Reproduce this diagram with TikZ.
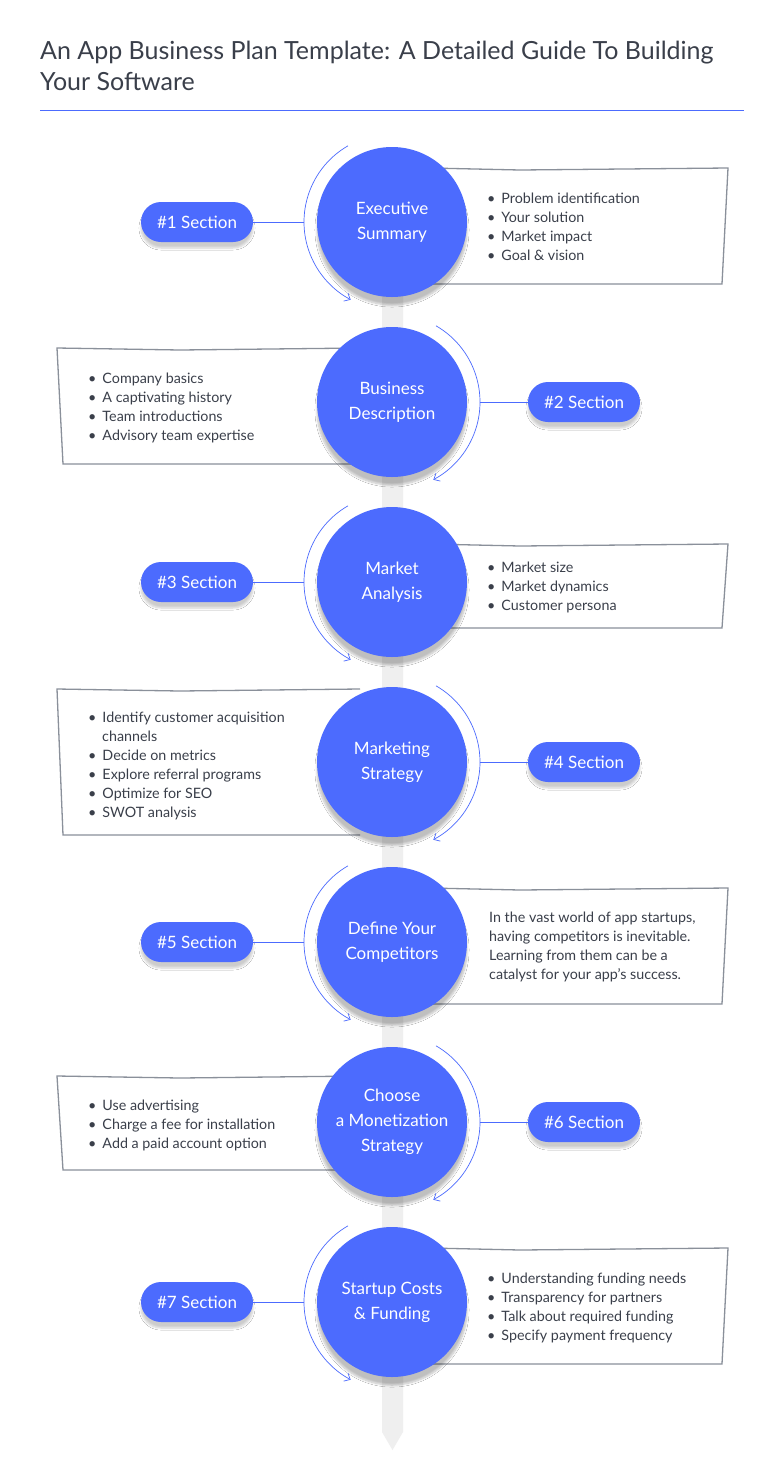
\documentclass[tikz,border=0pt]{standalone}
\usepackage{fontspec}
\setmainfont{Lato}
\usetikzlibrary{arrows.meta,shadows.blur,calc}
\definecolor{blu}{HTML}{4C6BFE}
\definecolor{txt}{HTML}{3A3F4A}
\definecolor{frm}{HTML}{8A909A}
\definecolor{spn}{HTML}{EFEFEF}
\begin{document}
\begin{tikzpicture}[x=1pt,y=-1pt,
  circ/.style={circle,fill=blu,minimum size=150pt,inner sep=0pt,text=white,align=center,font=\fontsize{17}{25}\selectfont,blur shadow={shadow blur steps=8,shadow xshift=0pt,shadow yshift=-8pt,shadow opacity=25}},
  pill/.style={rounded corners=20pt,fill=blu,minimum width=112pt,minimum height=40pt,text=white,font=\fontsize{17}{19}\selectfont,blur shadow={shadow blur steps=6,shadow xshift=0pt,shadow yshift=-6pt,shadow opacity=20}},
  frame/.style={draw=frm,line width=1.3pt},
  lst/.style={anchor=north west,text=txt,align=left,font=\fontsize{14.3}{19}\selectfont,inner sep=0pt},
  arc/.style={draw=blu,line width=0.7pt,-{Straight Barb[length=5pt,width=9pt]}},
  con/.style={draw=blu,line width=0.8pt}]
\useasboundingbox (0,0) rectangle (784,1484);
\fill[white] (0,0) rectangle (784,1484);
\node[anchor=north west,text=txt,align=left,font=\fontsize{25}{31}\selectfont,inner sep=0pt] (title) at (40,41) {An App Business Plan Template: A Detailed Guide To Building\\Your Software};
\draw[blu,line width=0.8pt] (40,110) -- (744,110);
% spine
\fill[spn] (382,160) -- (403,160) -- (403,1432) -- (392.5,1450) -- (382,1432) -- cycle;
% frames
\draw[frame] (430,168) -- (520,170) -- (728,168) -- (722,284) -- (430,284);
\draw[frame] (360,348) -- (180,350) -- (57,348) -- (63,464) -- (360,464);
\draw[frame] (430,544) -- (520,546) -- (728,544) -- (722,628) -- (430,628);
\draw[frame] (360,689) -- (180,691) -- (57,689) -- (63,835) -- (360,835);
\draw[frame] (430,888) -- (520,890) -- (728,888) -- (722,1004) -- (430,1004);
\draw[frame] (360,1076) -- (180,1078) -- (57,1076) -- (63,1170) -- (360,1170);
\draw[frame] (430,1248) -- (520,1250) -- (728,1248) -- (722,1364) -- (430,1364);
% circles
\node[circ] (c1) at (392,222) {Executive\\Summary};
\node[circ] (c2) at (392,402) {Business\\Description};
\node[circ] (c3) at (392,582) {Market\\Analysis};
\node[circ] (c4) at (392,762) {Marketing\\Strategy};
\node[circ] (c5) at (392,942) {Define Your\\Competitors};
\node[circ] (c6) at (392,1122) {Choose\\a Monetization\\Strategy};
\node[circ] (c7) at (392,1302) {Startup Costs\\\& Funding};
% arcs, pills, lists
\foreach \i/\y in {1/222,3/582,5/942,7/1302}{
  \draw[arc] ($(c\i.center)+(240:88)$) arc[start angle=240,end angle=118,radius=88];
  \node[pill] (p\i) at (197,\y) {\#\i\ Section};
  \coordinate (a\i) at (304,\y);
  \draw[con] (p\i.east) -- (a\i);
}
\foreach \i/\y in {2/402,4/762,6/1122}{
  \draw[arc] ($(c\i.center)+(-60:88)$) arc[start angle=-60,end angle=62,radius=88];
  \node[pill] (p\i) at (584,\y) {\#\i\ Section};
  \coordinate (a\i) at (480,\y);
  \draw[con] (a\i) -- (p\i.west);
}
\newcommand{\bl}{\textbullet\hspace{6pt}}
\node[lst] (l1) at (487,193) {\bl Problem identification\\\bl Your solution\\\bl Market impact\\\bl Goal \& vision};
\node[lst] (l2) at (88,373) {\bl Company basics\\\bl A captivating history\\\bl Team introductions\\\bl Advisory team expertise};
\node[lst] (l3) at (487,562) {\bl Market size\\\bl Market dynamics\\\bl Customer persona};
\node[lst] (l4) at (88,712) {\bl Identify customer acquisition\\\hspace*{14pt}channels\\\bl Decide on metrics\\\bl Explore referral programs\\\bl Optimize for SEO\\\bl SWOT analysis};
\node[lst] (l5) at (489,912) {In the vast world of app startups,\\having competitors is inevitable.\\Learning from them can be a\\catalyst for your app's success.};
\node[lst] (l6) at (88,1100) {\bl Use advertising\\\bl Charge a fee for installation\\\bl Add a paid account option};
\node[lst] (l7) at (487,1273) {\bl Understanding funding needs\\\bl Transparency for partners\\\bl Talk about required funding\\\bl Specify payment frequency};
\end{tikzpicture}
\end{document}
